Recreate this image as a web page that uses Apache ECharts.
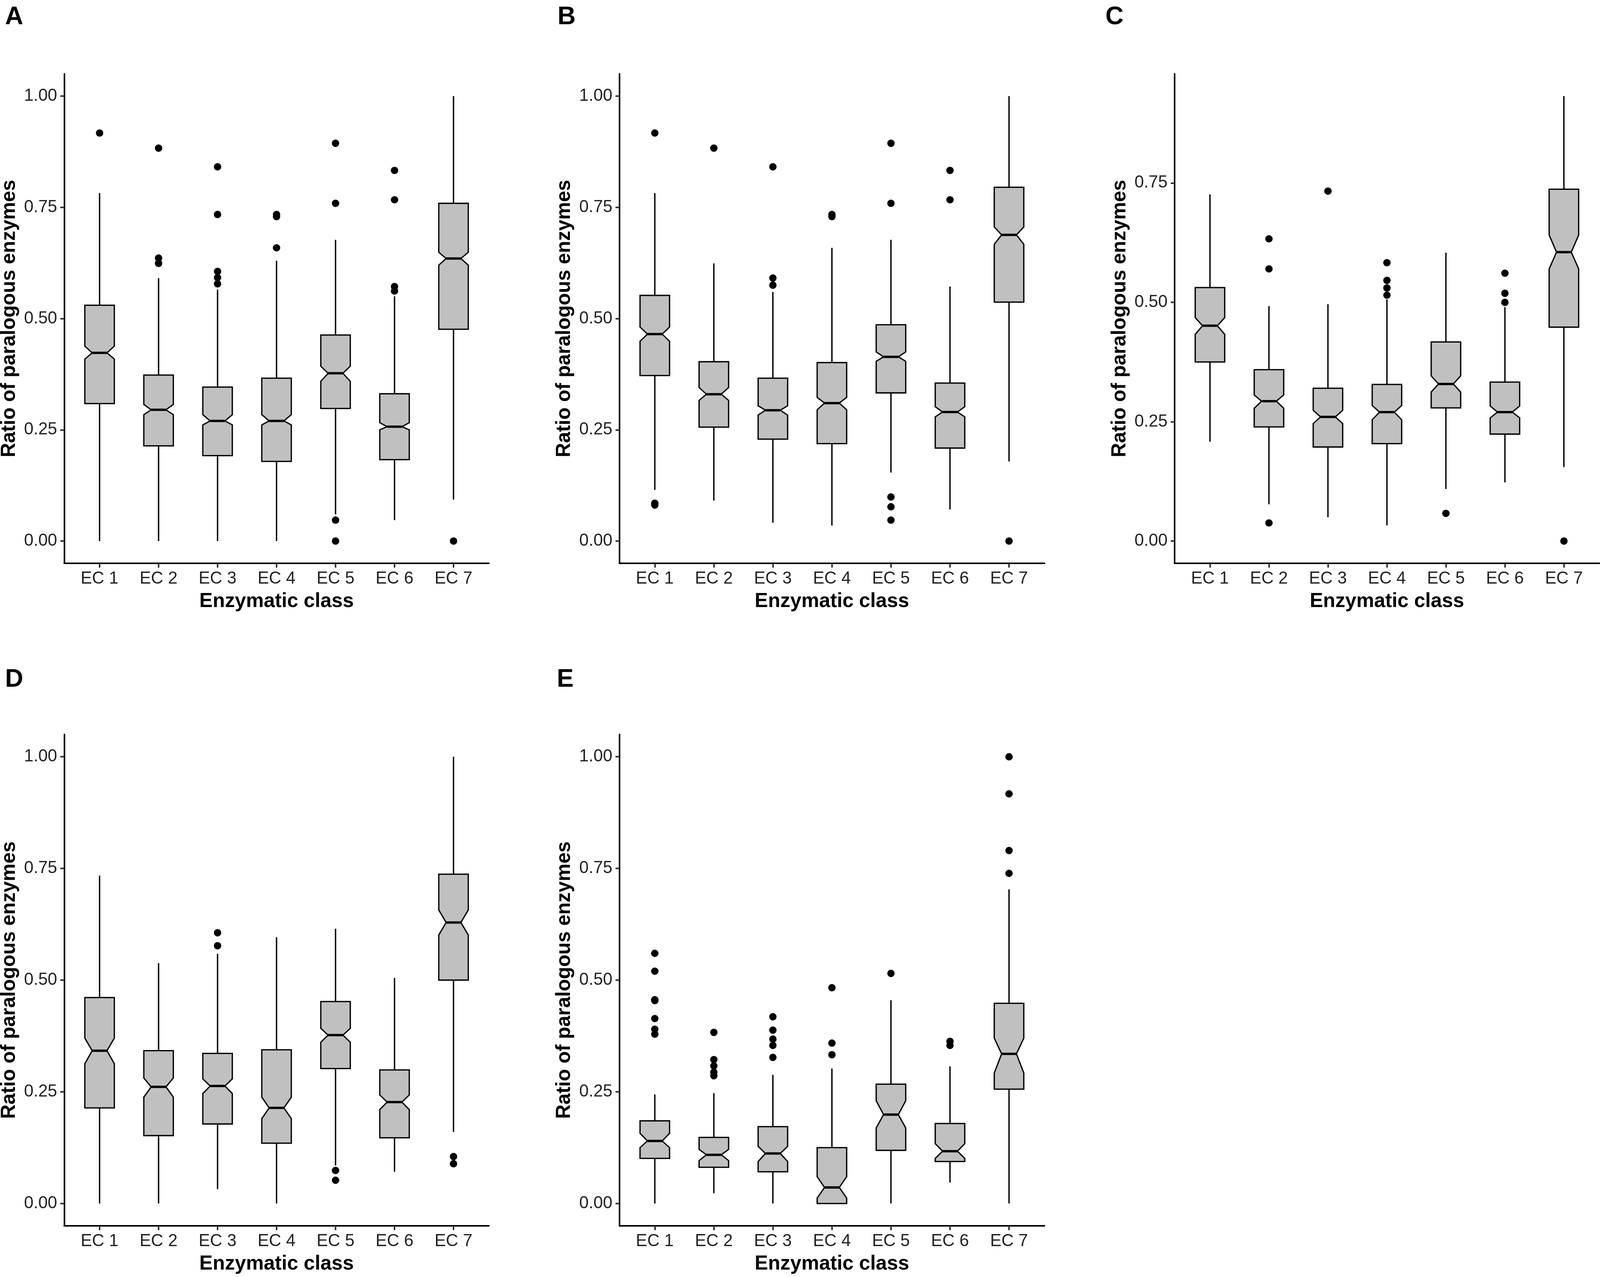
<!DOCTYPE html>
<html>
<head>
<meta charset="utf-8">
<title>Ratio of paralogous enzymes by enzymatic class</title>
<script src="https://cdn.jsdelivr.net/npm/echarts@6/dist/echarts.min.js"></script>
<style>
  html, body { margin: 0; padding: 0; background: #fff; overflow: hidden; }
  #main { width: 100vw; height: 100vh; }
</style>
</head>
<body>
<div id="main"></div>
<script>
// categories and tick labels
var categories = ['EC 1', 'EC 2', 'EC 3', 'EC 4', 'EC 5', 'EC 6', 'EC 7'];
var yTicksFull = [0, 0.25, 0.5, 0.75, 1];
var yTicksC = [0, 0.25, 0.5, 0.75];

// panel A
var lowA  = [0.000, 0.000, 0.000, 0.000, 0.060, 0.047, 0.093];
var q1A   = [0.309, 0.214, 0.192, 0.179, 0.298, 0.183, 0.476];
var nloA  = [0.409, 0.284, 0.261, 0.261, 0.359, 0.250, 0.620];
var medA  = [0.423, 0.295, 0.270, 0.270, 0.377, 0.257, 0.635];
var nhiA  = [0.438, 0.307, 0.284, 0.284, 0.393, 0.266, 0.649];
var q3A   = [0.530, 0.373, 0.346, 0.366, 0.463, 0.331, 0.759];
var highA = [0.782, 0.591, 0.565, 0.630, 0.677, 0.550, 1.000];
var outA  = [[0.917], [0.624, 0.636, 0.883], [0.578, 0.592, 0.606, 0.734, 0.841], [0.659, 0.729, 0.734],
             [0.000, 0.047, 0.759, 0.894], [0.562, 0.572, 0.767, 0.833], [0.000]];

// panel B
var lowB  = [0.115, 0.091, 0.041, 0.035, 0.154, 0.071, 0.179];
var q1B   = [0.372, 0.256, 0.229, 0.219, 0.333, 0.209, 0.537];
var nloB  = [0.449, 0.316, 0.283, 0.295, 0.404, 0.279, 0.667];
var medB  = [0.465, 0.330, 0.294, 0.310, 0.414, 0.290, 0.688];
var nhiB  = [0.481, 0.345, 0.304, 0.323, 0.425, 0.302, 0.706];
var q3B   = [0.552, 0.403, 0.366, 0.401, 0.486, 0.355, 0.795];
var highB = [0.782, 0.624, 0.560, 0.659, 0.677, 0.572, 1.000];
var outB  = [[0.081, 0.085, 0.917], [0.883], [0.575, 0.591, 0.841], [0.729, 0.734],
             [0.047, 0.077, 0.099, 0.759, 0.894], [0.767, 0.833], [0.000]];

// panel C
var lowC  = [0.208, 0.077, 0.050, 0.033, 0.109, 0.123, 0.155];
var q1C   = [0.375, 0.239, 0.197, 0.204, 0.279, 0.224, 0.448];
var nloC  = [0.433, 0.278, 0.246, 0.254, 0.312, 0.258, 0.570];
var medC  = [0.451, 0.293, 0.260, 0.270, 0.329, 0.270, 0.605];
var nhiC  = [0.468, 0.306, 0.274, 0.284, 0.346, 0.283, 0.641];
var q3C   = [0.531, 0.359, 0.320, 0.328, 0.417, 0.333, 0.737];
var highC = [0.726, 0.492, 0.496, 0.506, 0.604, 0.490, 0.932];
var outC  = [[], [0.038, 0.570, 0.633], [0.733], [0.515, 0.530, 0.546, 0.583],
             [0.058], [0.500, 0.519, 0.561], [0.000]];

// panel D
var lowD  = [0.000, 0.000, 0.032, 0.000, 0.085, 0.071, 0.160];
var q1D   = [0.214, 0.152, 0.178, 0.135, 0.302, 0.147, 0.500];
var nloD  = [0.313, 0.238, 0.246, 0.190, 0.361, 0.210, 0.601];
var medD  = [0.342, 0.261, 0.263, 0.214, 0.377, 0.227, 0.629];
var nhiD  = [0.370, 0.281, 0.279, 0.238, 0.392, 0.243, 0.657];
var q3D   = [0.461, 0.342, 0.336, 0.344, 0.452, 0.299, 0.737];
var highD = [0.734, 0.538, 0.559, 0.596, 0.615, 0.505, 1.000];
var outD  = [[], [], [0.577, 0.606], [], [0.052, 0.074], [], [0.089, 0.105]];

// panel E
var lowE  = [0.000, 0.023, 0.000, 0.000, 0.000, 0.047, 0.000];
var q1E   = [0.101, 0.081, 0.071, 0.000, 0.119, 0.094, 0.256];
var nloE  = [0.125, 0.096, 0.094, 0.012, 0.169, 0.101, 0.292];
var medE  = [0.140, 0.109, 0.112, 0.036, 0.199, 0.117, 0.335];
var nhiE  = [0.157, 0.121, 0.128, 0.060, 0.230, 0.134, 0.370];
var q3E   = [0.185, 0.148, 0.172, 0.125, 0.267, 0.179, 0.448];
var highE = [0.244, 0.247, 0.288, 0.302, 0.455, 0.307, 0.703];
var outE  = [[0.379, 0.390, 0.414, 0.454, 0.456, 0.520, 0.560], [0.286, 0.294, 0.308, 0.322, 0.383],
             [0.327, 0.354, 0.368, 0.388, 0.418], [0.333, 0.359, 0.483], [0.515], [0.354, 0.363],
             [0.739, 0.790, 0.917, 1.000]];

var FONT = '"Liberation Sans", Arial, sans-serif';

// the figure is laid out on a 4562 x 3269 design; scale to the real viewport
var el = document.getElementById('main');
var sx = el.clientWidth / 4562;
var sy = el.clientHeight / 3269;
var fs = Math.sqrt(sx * sy);

// layout of the five panels (design pixels)
var panels = [
  { name: 'A', stats: [lowA, q1A, nloA, medA, nhiA, q3A, highA], out: outA, ticks: yTicksFull,
    left: 183, top: 189, width: 1211, height: 1253, lx: 9, ly: 7 },
  { name: 'B', stats: [lowB, q1B, nloB, medB, nhiB, q3B, highB], out: outB, ticks: yTicksFull,
    left: 1766, top: 189, width: 1212, height: 1253, lx: 1584, ly: 7 },
  { name: 'C', stats: [lowC, q1C, nloC, medC, nhiC, q3C, highC], out: outC, ticks: yTicksC,
    left: 3349, top: 189, width: 1211, height: 1253, lx: 3146, ly: 7 },
  { name: 'D', stats: [lowD, q1D, nloD, medD, nhiD, q3D, highD], out: outD, ticks: yTicksFull,
    left: 183, top: 1880, width: 1211, height: 1258, lx: 9, ly: 1703 },
  { name: 'E', stats: [lowE, q1E, nloE, medE, nhiE, q3E, highE], out: outE, ticks: yTicksFull,
    left: 1766, top: 1880, width: 1212, height: 1258, lx: 1582, ly: 1703 }
];

// notched box + whiskers, drawn through the axis scales
function renderBox(params, api) {
  var x = api.value(0);
  var unit = api.size([1, 0])[0];
  var hw = unit * 0.25, nw = unit * 0.125;
  var lo = api.coord([x, api.value(1)]);
  var q1 = api.coord([x, api.value(2)])[1];
  var nlo = api.coord([x, api.value(3)])[1];
  var med = api.coord([x, api.value(4)])[1];
  var nhi = api.coord([x, api.value(5)])[1];
  var q3 = api.coord([x, api.value(6)])[1];
  var hi = api.coord([x, api.value(7)])[1];
  var cx = lo[0];
  var lineStyle = { stroke: '#000', lineWidth: 3.5 };
  return {
    type: 'group',
    children: [
      { type: 'line', shape: { x1: cx, y1: q3, x2: cx, y2: hi }, style: lineStyle },
      { type: 'line', shape: { x1: cx, y1: q1, x2: cx, y2: lo[1] }, style: lineStyle },
      { type: 'polygon',
        shape: { points: [
          [cx - hw, q3], [cx + hw, q3], [cx + hw, nhi], [cx + nw, med], [cx + hw, nlo],
          [cx + hw, q1], [cx - hw, q1], [cx - hw, nlo], [cx - nw, med], [cx - hw, nhi]
        ] },
        style: { fill: '#c0c0c0', stroke: '#000', lineWidth: 3.3, lineJoin: 'miter' } },
      { type: 'line', shape: { x1: cx - nw, y1: med, x2: cx + nw, y2: med },
        style: { stroke: '#000', lineWidth: 6 } }
    ]
  };
}

var grids = [], xAxes = [], yAxes = [], series = [], titles = [];

panels.forEach(function (p, k) {
  var s = p.stats;
  var boxData = [], pts = [];
  var dmin = Infinity, dmax = -Infinity;
  for (var i = 0; i < categories.length; i++) {
    boxData.push([i + 1, s[0][i], s[1][i], s[2][i], s[3][i], s[4][i], s[5][i], s[6][i]]);
    dmin = Math.min(dmin, s[0][i]);
    dmax = Math.max(dmax, s[6][i]);
    p.out[i].forEach(function (v) {
      pts.push([i + 1, v]);
      dmin = Math.min(dmin, v);
      dmax = Math.max(dmax, v);
    });
  }
  // ggplot-like 5% expansion of the data range
  var pad = (dmax - dmin) * 0.05;

  grids.push({ left: p.left * sx, top: p.top * sy, width: p.width * sx, height: p.height * sy,
               containLabel: false, outerBoundsMode: 'none' });

  xAxes.push({
    gridIndex: k, type: 'value', min: 0.4, max: 7.6,
    name: 'Enzymatic class', nameLocation: 'middle', nameGap: 72 * sy,
    nameTextStyle: { fontFamily: FONT, fontSize: 54 * fs, fontWeight: 'bold', color: '#000' },
    axisLine: { show: true, onZero: false, lineStyle: { color: '#000', width: 4 } },
    axisTick: { show: true, length: 11 * sy, customValues: [1, 2, 3, 4, 5, 6, 7],
                lineStyle: { color: '#333', width: 4 } },
    axisLabel: { show: true, margin: 18 * sy, customValues: [1, 2, 3, 4, 5, 6, 7],
                 fontFamily: FONT, fontSize: 46 * fs, color: '#222',
                 formatter: function (v) { return categories[Math.round(v) - 1]; } },
    splitLine: { show: false }
  });

  yAxes.push({
    gridIndex: k, type: 'value', min: dmin - pad, max: dmax + pad,
    name: 'Ratio of paralogous enzymes', nameLocation: 'middle', nameGap: 128 * sx, nameRotate: 90,
    nameTextStyle: { fontFamily: FONT, fontSize: 54 * fs, fontWeight: 'bold', color: '#000' },
    axisLine: { show: true, onZero: false, lineStyle: { color: '#000', width: 4 } },
    axisTick: { show: true, length: 11 * sx, customValues: p.ticks,
                lineStyle: { color: '#333', width: 4 } },
    axisLabel: { show: true, margin: 20 * sx, customValues: p.ticks,
                 fontFamily: FONT, fontSize: 46 * fs, color: '#222',
                 formatter: function (v) { return v.toFixed(2); } },
    splitLine: { show: false }
  });

  series.push({
    type: 'custom', xAxisIndex: k, yAxisIndex: k,
    renderItem: renderBox, data: boxData,
    encode: { x: 0, y: [1, 2, 3, 4, 5, 6, 7] },
    silent: true, animation: false
  });

  series.push({
    type: 'scatter', xAxisIndex: k, yAxisIndex: k,
    data: pts, symbol: 'circle', symbolSize: 20 * fs,
    itemStyle: { color: '#000', opacity: 1 }, silent: true, animation: false, z: 5
  });

  titles.push({
    text: p.name, left: p.lx * sx, top: p.ly * sy,
    textStyle: { fontFamily: FONT, fontSize: 68 * fs, fontWeight: 'bold', color: '#000' }
  });
});

var chart = echarts.init(el, null, { renderer: 'canvas' });
chart.setOption({
  backgroundColor: '#fff',
  animation: false,
  title: titles,
  grid: grids,
  xAxis: xAxes,
  yAxis: yAxes,
  series: series
});

window.onresize = function () {
  chart.resize();
};
</script>
</body>
</html>
